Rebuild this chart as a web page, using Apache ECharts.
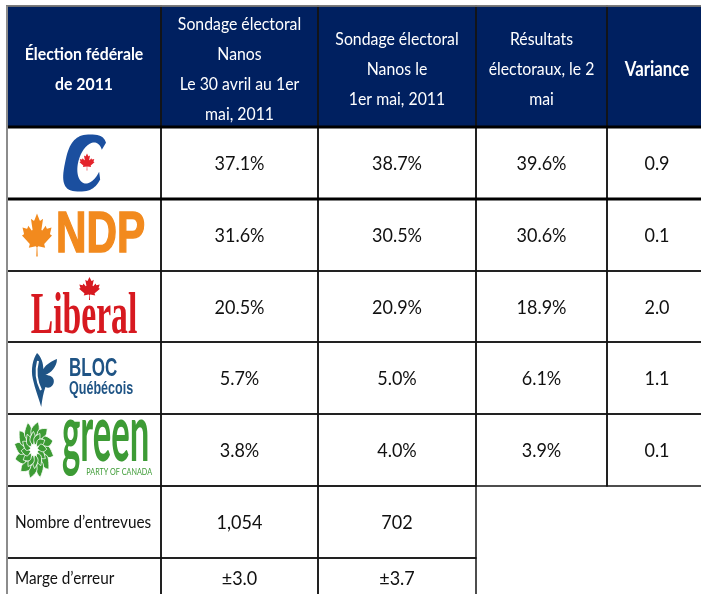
<!DOCTYPE html>
<html>
<head>
<meta charset="utf-8">
<script src="https://cdn.jsdelivr.net/npm/echarts@6/dist/echarts.min.js"></script>
<style>
  html, body { margin: 0; padding: 0; background: #fff; }
  #chart { width: 701px; height: 594px; }
</style>
</head>
<body>
<div id="chart"></div>
<script>
// table content
const headers = [
  'Élection fédérale\nde 2011',
  'Sondage électoral\nNanos\nLe 30 avril au 1er\nmai, 2011',
  'Sondage électoral\nNanos le\n1er mai, 2011',
  'Résultats\nélectoraux, le 2\nmai',
  'Variance'
];
const parties = ['Conservateur', 'NPD', 'Libéral', 'Bloc Québécois', 'Vert'];
const sondage3001 = [37.1, 31.6, 20.5, 5.7, 3.8];
const sondage0105 = [38.7, 30.5, 20.9, 5.0, 4.0];
const resultats = [39.6, 30.6, 18.9, 6.1, 3.9];
const variance = [0.9, 0.1, 2.0, 1.1, 0.1];
const footLabels = ['Nombre d’entrevues', 'Marge d’erreur'];
const footSondage3001 = ['1,054', '±3.0'];
const footSondage0105 = ['702', '±3.7'];

// layout, in axis units (1 unit = 1 px)
const colEdges = [0, 154, 311, 469, 600, 700];
const rowEdges = [0, 121, 193, 265, 336, 408, 480, 552, 592];

const NAVY = '#002060';
const FONT = 'Lato';
const SX = 0.9; // the source is squeezed horizontally

const LEAF = 'M-90 2030 l45 -863 l-111 -98 l-859 151 l116 -320 l-20 -73 l-941 -762 l212 -99 l34 -79 l-186 -572 l542 115 l73 -38 l105 -247 l423 454 l111 -57 l-204 -1052 l327 189 l91 -27 l332 -652 l332 652 l91 27 l327 -189 l-204 1052 l111 57 l423 -454 l105 247 l73 38 l542 -115 l-186 572 l34 79 l212 99 l-941 762 l-20 73 l116 320 l-859 -151 l-111 98 l45 863 Z';
const BLOC_ICON = 'M6 0 C2 6 0 16 2 26 C4 36 8 46 10 54 C11 46 12 40 14 34 C18 36 22 33 22 28 C22 24 18 22 14 22 C19 20 25 14 25 6 C20 8 15 11 12 16 C12 10 10 4 6 0 Z';

const cells = [];
headers.forEach((h, c) => cells.push({ col: c, row: 0, text: h, kind: 'head' }));
parties.forEach((p, i) => {
  const r = i + 1;
  cells.push({ col: 0, row: r, logo: i, kind: 'logo' });
  cells.push({ col: 1, row: r, text: sondage3001[i].toFixed(1) + '%' });
  cells.push({ col: 2, row: r, text: sondage0105[i].toFixed(1) + '%' });
  cells.push({ col: 3, row: r, text: resultats[i].toFixed(1) + '%' });
  cells.push({ col: 4, row: r, text: variance[i].toFixed(1) });
});
footLabels.forEach((l, i) => {
  const r = parties.length + 1 + i;
  cells.push({ col: 0, row: r, text: l, kind: 'label' });
  cells.push({ col: 1, row: r, text: footSondage3001[i] });
  cells.push({ col: 2, row: r, text: footSondage0105[i] });
});

function leaf(cx, cy, w, h, fill) {
  return { type: 'path', z2: 32,
    shape: { pathData: LEAF, x: cx - w / 2, y: cy - h / 2, width: w, height: h, layout: 'cover' },
    style: { fill: fill } };
}

function txt(x, y, text, o) {
  return { type: 'text', x: x, y: y, scaleX: o.sx || SX, scaleY: o.sy || 1, z2: 30,
    style: { text: text, fill: o.fill || '#111', fontSize: o.size || 20, fontFamily: o.family || FONT,
      fontWeight: o.weight || 'normal', align: o.align || 'center', verticalAlign: 'middle',
      lineHeight: o.lh, stroke: o.stroke, lineWidth: o.lw || 0 } };
}

function conservative(cx, cy) {
  const pts = [];
  const ell = (a, ox, oy, rx, ry, p) => {
    const t = a * Math.PI / 180;
    const pw = (v) => Math.sign(v) * Math.pow(Math.abs(v), p);
    return [ox + rx * pw(Math.cos(t)), oy + ry * pw(Math.sin(t))];
  };
  for (let a = -38; a >= -335; a -= 5) pts.push(ell(a, 0, 0, 20, 28.5, 0.7));
  for (let a = -335; a <= -38; a += 5) pts.push(ell(a, 5, 0, 12, 20.5, 1));
  return [
    { type: 'polygon', z2: 30, shape: { points: pts.map(p => [cx + 1 + p[0] - p[1] * 0.2, cy + p[1]]) },
      style: { fill: '#1b4f9f' } },
    leaf(cx + 3, cy - 1, 15, 17, '#e4232b')
  ];
}

function flower(cx, cy) {
  const kids = [];
  const k = 1.45;
  const petal = (ang, r0, r1, wdt, fill) => {
    const d = [Math.cos(ang), Math.sin(ang)], n = [-Math.sin(ang), Math.cos(ang)];
    const left = [], right = [];
    for (let i = 0; i <= 10; i++) {
      const t = i / 10, r = r0 + (r1 - r0) * t;
      const hw = wdt / 2 * Math.sin(Math.PI * t), s = wdt * 0.5 * t * t;
      left.push([d[0] * r + n[0] * (s + hw), d[1] * r + n[1] * (s + hw)]);
      right.unshift([d[0] * r + n[0] * (s - hw), d[1] * r + n[1] * (s - hw)]);
    }
    kids.push({ type: 'polygon', z2: 30,
      shape: { points: left.concat(right).map(p => [cx + p[0], cy + p[1] * k]) },
      style: { fill: fill, stroke: '#fff', lineWidth: 0.8 } });
  };
  for (let i = 0; i < 12; i++) petal(i * Math.PI / 6, 8, 19.5, 8, '#3d9b35');
  for (let i = 0; i < 12; i++) petal(i * Math.PI / 6 + Math.PI / 12, 3.5, 12.5, 5.5, '#3d9b35');
  kids.push({ type: 'circle', z2: 31, shape: { cx: cx, cy: cy, r: 2.5 }, style: { fill: '#fff' } });
  return kids;
}

function logo(i, cx, cy) {
  if (i === 0) return conservative(cx, cy);
  if (i === 1) return [
    leaf(cx - 47, cy, 30, 43, '#f28a1e'),
    txt(cx + 16.5, cy + 1.5, 'NDP', { size: 57, family: 'Liberation Sans', weight: 'bold', fill: '#f28a1e', sx: 0.74, stroke: '#f28a1e', lw: 1.5 })
  ];
  if (i === 2) return [
    txt(cx, cy + 11, 'Liberal', { size: 59, family: 'Liberation Serif', weight: 'bold', fill: '#d71920', sx: 0.57 }),
    leaf(cx + 5.5, cy - 18, 21, 23, '#d71920')
  ];
  if (i === 3) return [
    { type: 'path', z2: 30, shape: { pathData: BLOC_ICON, x: cx - 52, y: cy - 25, width: 25, height: 54, layout: 'cover' },
      style: { fill: '#1f5485' } },
    { type: 'bezierCurve', z2: 31, shape: { x1: cx - 46, y1: cy - 17, cpx1: cx - 50, cpy1: cy - 2, x2: cx - 43, y2: cy + 12 },
      style: { stroke: '#fff', lineWidth: 2, fill: null } },
    txt(cx - 15, cy - 9, 'BLOC', { size: 25, family: 'Liberation Sans', weight: 'bold', fill: '#1f5485', sx: 0.68, align: 'left' }),
    txt(cx - 15, cy + 11, 'Québécois', { size: 19, family: 'Liberation Sans', weight: 'bold', fill: '#1f5485', sx: 0.66, align: 'left' })
  ];
  return flower(cx - 50, cy).concat([
    txt(cx - 22, cy - 15, 'green', { size: 56, weight: 'bold', fill: '#3d9b35', sx: 0.62, sy: 1.45, align: 'left' }),
    txt(cx + 68, cy + 21.5, 'PARTY OF CANADA', { size: 10, fill: '#3d9b35', sx: 0.72, align: 'right' })
  ]);
}

function renderItem(params, api) {
  const cell = cells[params.dataIndex];
  const c = api.value(0), r = api.value(1);
  const p0 = api.coord([colEdges[c], rowEdges[r]]);
  const p1 = api.coord([colEdges[c + 1], rowEdges[r + 1]]);
  const x = p0[0], y = p0[1], w = p1[0] - x, h = p1[1] - y;
  const cx = x + w / 2, cy = y + h / 2;
  const kids = [
    { type: 'rect', z2: 0, shape: { x: x, y: y, width: w, height: h }, style: { fill: r === 0 ? NAVY : '#fff' } },
    { type: 'rect', z2: 10, shape: { x: x, y: y, width: w, height: h }, style: { fill: null, stroke: '#151515', lineWidth: 1.5 } }
  ];
  if (r <= 1) kids.push({ type: 'line', z2: 11, shape: { x1: x, y1: y + h, x2: x + w, y2: y + h }, style: { stroke: '#000', lineWidth: 3 } });
  if (r === 0) kids.push({ type: 'line', z2: 12, shape: { x1: x, y1: y, x2: x + w, y2: y }, style: { stroke: '#8c8c8c', lineWidth: 1.5 } });
  if (c === 0) kids.push({ type: 'line', z2: 12, shape: { x1: x, y1: y, x2: x, y2: y + h + 2 }, style: { stroke: '#8c8c8c', lineWidth: 2 } });

  if (cell.kind === 'head') {
    const bold = c === 0 || c === 4;
    kids.push(txt(cx, cy + 3, cell.text, { size: c === 4 ? 20 : 17, weight: bold ? 'bold' : 'normal', fill: '#fff', lh: 30,
      sx: c === 4 ? 0.84 : 0.93 }));
  } else if (cell.kind === 'logo') {
    kids.push.apply(kids, logo(cell.logo, cx, cy));
  } else if (cell.kind === 'label') {
    kids.push(txt(x + 8, cy + 1, cell.text, { size: 17, align: 'left' }));
  } else {
    kids.push(txt(cx, cy + 1, cell.text, { size: 20 }));
  }
  return { type: 'group', children: kids };
}

const chart = echarts.init(document.getElementById('chart'), null, { renderer: 'canvas' });
chart.setOption({
  backgroundColor: '#fff',
  animation: false,
  grid: { left: 7, top: 6, right: 0, bottom: 0 },
  xAxis: { type: 'value', min: 0, max: 694, show: false },
  yAxis: { type: 'value', min: 0, max: 588, inverse: true, show: false },
  series: [{
    type: 'custom',
    renderItem: renderItem,
    clip: false,
    encode: { x: 0, y: 1 },
    data: cells.map(c => [c.col, c.row])
  }]
});
</script>
</body>
</html>
